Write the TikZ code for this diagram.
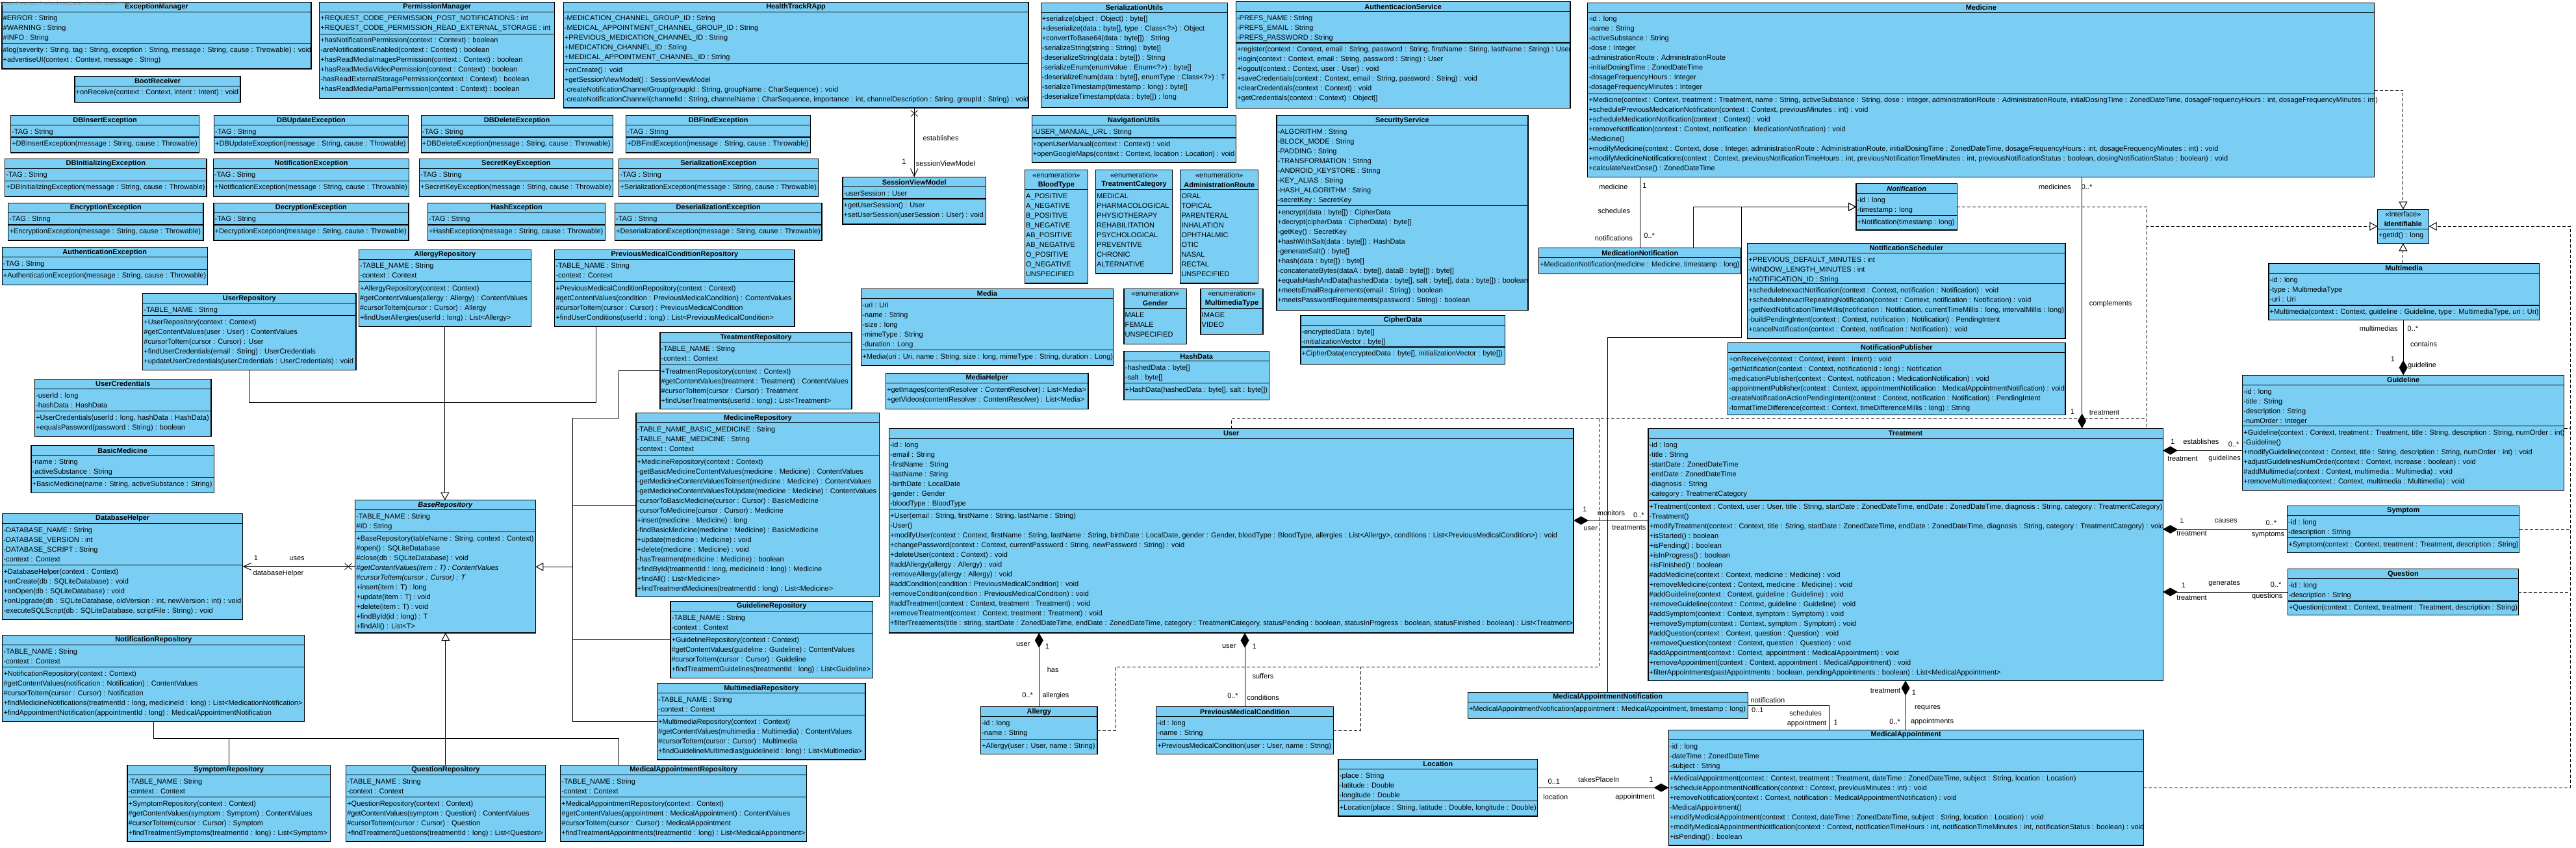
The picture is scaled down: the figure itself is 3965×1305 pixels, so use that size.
\documentclass[tikz,border=0pt]{standalone}
\usepackage{fontspec}
\setmainfont{Liberation Sans}
\usetikzlibrary{arrows.meta, shapes.misc}
\definecolor{umlblue}{HTML}{7ACEF4}

\newcommand{\umlfont}{\fontsize{11}{15}\selectfont}
% class: name, left, top, right, bottom, title, y of operations line, attributes, operations
\newcommand{\umlclass}[9]{%
  \node[classbox, minimum width={#4-#2}, minimum height={#5-#3}] (#1) at (#2,#3) {};
  \node[classname] (#1-t) at ({(#2+#4)/2},#3+7.5) {#6};
  \draw[divider] (#2,#3+15) -- (#4,#3+15);
  \draw[divider] (#2,#7) -- (#4,#7);
  \node[members] (#1-a) at (#2+1.5,#3+18) {\strut#8};
  \node[members] (#1-o) at (#2+1.5,#7+3) {\strut#9};
}
% stereotyped class: name, left, top, right, bottom, stereotype, title, y of line, items
\newcommand{\umlstereo}[9]{%
  \node[classbox, minimum width={#4-#2}, minimum height={#5-#3}] (#1) at (#2,#3) {};
  \node[stereo] (#1-s) at ({(#2+#4)/2},#3+7.5) {<<#6>>};
  \node[classname] (#1-t) at ({(#2+#4)/2},#3+22.5) {#7};
  \draw[divider] (#2,#8) -- (#4,#8);
  \node[members] (#1-a) at (#2+1.5,#8+3) {\strut#9};
}
% exception class: name, left, top, right, bottom, y of line, title
\newcommand{\umlexc}[7]{%
  \umlclass{#1}{#2}{#3}{#4}{#5}{#7}{#6}{-TAG : String}{+#7(message : String, cause : Throwable)}%
}
\newcommand{\repoattrs}{-TABLE\_NAME : String\\-context : Context}

\begin{document}
\begin{tikzpicture}[
    x=1pt, y=-1pt,
    classbox/.style={draw, fill=umlblue, line width=1.2pt, inner sep=0pt, outer sep=0pt, anchor=north west},
    classname/.style={font=\umlfont\bfseries, inner sep=0pt},
    stereo/.style={font=\umlfont, inner sep=0pt},
    members/.style={font=\umlfont, align=left, inner sep=0pt, anchor=north west},
    divider/.style={line width=1.2pt},
    lbl/.style={font=\umlfont, inner sep=0pt},
    link/.style={line width=1pt},
    dashline/.style={line width=1pt, dash pattern=on 5pt off 3pt},
    gen/.style={link, -{Triangle[length=12pt,width=13pt,fill=white]}},
    real/.style={dashline, -{Triangle[length=12pt,width=13pt,fill=white]}},
    nav/.style={link, -{Straight Barb[length=12pt,width=11pt]}},
    comp/.style={link, {Diamond[length=23pt,width=13pt]}-},
    navx/.style={draw, cross out, line width=0.8pt, minimum width=10pt, minimum height=9pt, inner sep=0pt}
  ]
  \fill[white] (0,0) rectangle (3965,1305);
  \useasboundingbox (0,0) rectangle (3965,1305);

  % utilities
  \umlclass{excmgr}{3}{3.3}{479}{106}{ExceptionManager}{66.7}
    {\#ERROR : String\\\#WARNING : String\\\#INFO : String}
    {\#log(severity : String, tag : String, exception : String, message : String, cause : Throwable) : void\\+advertiseUI(context : Context, message : String)}
  \node[font=\fontsize{8}{9}\selectfont, text=black!40, inner sep=0pt, anchor=west] (vp) at (0,6.7)
    {Visual Paradigm Professional(Javier Jordán Luque(Universidad de Málaga))};
  \umlclass{bootrcv}{115}{117.3}{370}{157.3}{BootReceiver}{132.3}{}
    {+onReceive(context : Context, intent : Intent) : void}
  \umlclass{permmgr}{491.7}{3.3}{853.8}{151.7}{PermissionManager}{52.3}
    {+REQUEST\_CODE\_PERMISSION\_POST\_NOTIFICATIONS : int\\+REQUEST\_CODE\_PERMISSION\_READ\_EXTERNAL\_STORAGE : int}
    {+hasNotificationPermission(context : Context) : boolean\\-areNotificationsEnabled(context : Context) : boolean\\+hasReadMediaImagesPermission(context : Context) : boolean\\+hasReadMediaVideoPermission(context : Context) : boolean\\-hasReadExternalStoragePermission(context : Context) : boolean\\+hasReadMediaPartialPermission(context : Context) : boolean}
  \umlclass{app}{867.2}{3.3}{1583}{166}{HealthTrackRApp}{97.7}
    {-MEDICATION\_CHANNEL\_GROUP\_ID : String\\-MEDICAL\_APPOINTMENT\_CHANNEL\_GROUP\_ID : String\\+PREVIOUS\_MEDICATION\_CHANNEL\_ID : String\\+MEDICATION\_CHANNEL\_ID : String\\+MEDICAL\_APPOINTMENT\_CHANNEL\_ID : String}
    {+onCreate() : void\\+getSessionViewModel() : SessionViewModel\\-createNotificationChannelGroup(groupId : String, groupName : CharSequence) : void\\-createNotificationChannel(channelId : String, channelName : CharSequence, importance : int, channelDescription : String, groupId : String) : void}
  \umlclass{serutils}{1602.2}{4.3}{1889.6}{165.3}{SerializationUtils}{19.3}{}
    {+serialize(object : Object) : byte[]\\+deserialize(data : byte[], type : Class<?>) : Object\\+convertToBase64(data : byte[]) : String\\-serializeString(string : String) : byte[]\\-deserializeString(data : byte[]) : String\\-serializeEnum(enumValue : Enum<?>) : byte[]\\-deserializeEnum(data : byte[], enumType : Class<?>) : T\\-serializeTimestamp(timestamp : long) : byte[]\\-deserializeTimestamp(data : byte[]) : long}
  \umlclass{authsvc}{1902.3}{2.7}{2417}{166.7}{AuthenticacionService}{66}
    {-PREFS\_NAME : String\\-PREFS\_EMAIL : String\\-PREFS\_PASSWORD : String}
    {+register(context : Context, email : String, password : String, firstName : String, lastName : String) : User\\+login(context : Context, email : String, password : String) : User\\+logout(context : Context, user : User) : void\\+saveCredentials(context : Context, email : String, password : String) : void\\+clearCredentials(context : Context) : void\\+getCredentials(context : Context) : Object[]}
  \umlclass{svm}{1297}{272.7}{1517.3}{345}{SessionViewModel}{306}
    {-userSession : User}
    {+getUserSession() : User\\+setUserSession(userSession : User) : void}
  \umlclass{navutils}{1588.2}{177.7}{1902.3}{250}{NavigationUtils}{212}
    {-USER\_MANUAL\_URL : String}
    {+openUserManual(context : Context) : void\\+openGoogleMaps(context : Context, location : Location) : void}
  \umlclass{secsvc}{1964.9}{177.7}{2351.9}{477.3}{SecurityService}{316.7}
    {-ALGORITHM : String\\-BLOCK\_MODE : String\\-PADDING : String\\-TRANSFORMATION : String\\-ANDROID\_KEYSTORE : String\\-KEY\_ALIAS : String\\-HASH\_ALGORITHM : String\\-secretKey : SecretKey}
    {+encrypt(data : byte[]) : CipherData\\+decrypt(cipherData : CipherData) : byte[]\\-getKey() : SecretKey\\+hashWithSalt(data : byte[]) : HashData\\-generateSalt() : byte[]\\+hash(data : byte[]) : byte[]\\-concatenateBytes(dataA : byte[], dataB : byte[]) : byte[]\\+equalsHashAndData(hashedData : byte[], salt : byte[], data : byte[]) : boolean\\+meetsEmailRequirements(email : String) : boolean\\+meetsPasswordRequirements(password : String) : boolean}
  \umlclass{cipher}{2001.9}{485.3}{2316.7}{560.3}{CipherData}{534}
    {-encryptedData : byte[]\\-initializationVector : byte[]}
    {+CipherData(encryptedData : byte[], initializationVector : byte[])}
  \umlclass{hashdata}{1729.9}{540.7}{1953.4}{615.3}{HashData}{589.3}
    {-hashedData : byte[]\\-salt : byte[]}
    {+HashData(hashedData : byte[], salt : byte[])}
  \umlclass{media}{1325.7}{444.3}{1713.3}{562.3}{Media}{538.3}
    {-uri : Uri\\-name : String\\-size : long\\-mimeType : String\\-duration : Long}
    {+Media(uri : Uri, name : String, size : long, mimeType : String, duration : Long)}
  \umlclass{mediahelper}{1363.4}{574.3}{1675}{629.3}{MediaHelper}{589.3}{}
    {+getImages(contentResolver : ContentResolver) : List<Media>\\+getVideos(contentResolver : ContentResolver) : List<Media>}

  % enumerations
  \umlstereo{bloodtype}{1577.3}{261.7}{1674.4}{436}{enumeration}{BloodType}{291.7}
    {A\_POSITIVE\\A\_NEGATIVE\\B\_POSITIVE\\B\_NEGATIVE\\AB\_POSITIVE\\AB\_NEGATIVE\\O\_POSITIVE\\O\_NEGATIVE\\UNSPECIFIED}
  \umlstereo{treatcat}{1686.5}{261.7}{1804.6}{421}{enumeration}{TreatmentCategory}{291.7}
    {MEDICAL\\PHARMACOLOGICAL\\PHYSIOTHERAPY\\REHABILITATION\\PSYCHOLOGICAL\\PREVENTIVE\\CHRONIC\\ALTERNATIVE}
  \umlstereo{adminroute}{1816.8}{261.7}{1936.8}{436}{enumeration}{AdministrationRoute}{291.7}
    {ORAL\\TOPICAL\\PARENTERAL\\INHALATION\\OPHTHALMIC\\OTIC\\NASAL\\RECTAL\\UNSPECIFIED}
  \umlstereo{gender}{1729.9}{444.3}{1826.4}{529.3}{enumeration}{Gender}{474.7}
    {MALE\\FEMALE\\UNSPECIFIED}
  \umlstereo{mmtype}{1848}{444.3}{1943.9}{514.3}{enumeration}{MultimediaType}{474.7}
    {IMAGE\\VIDEO}
  \umlstereo{identifiable}{3659.3}{322.3}{3738.5}{374.3}{Interface}{Identifiable}{352.3}
    {+getId() : long}

  % exceptions
  \umlexc{dbinsert}{16.6}{177.7}{306.5}{235}{211}{DBInsertException}
  \umlexc{dbupdate}{329.5}{177.7}{628.4}{235}{211}{DBUpdateException}
  \umlexc{dbdelete}{648.2}{177.7}{943.2}{235}{211}{DBDeleteException}
  \umlexc{dbfind}{963.6}{177.7}{1247.8}{235}{211}{DBFindException}
  \umlexc{dbinit}{7.7}{244.3}{318}{302.3}{278.3}{DBInitializingException}
  \umlexc{notifexc}{328.2}{244.3}{629.7}{302.3}{278.3}{NotificationException}
  \umlexc{secretexc}{645.6}{244.3}{943.2}{302.3}{278.3}{SecretKeyException}
  \umlexc{serexc}{952.8}{244.3}{1259.3}{302.3}{278.3}{SerializationException}
  \umlexc{encexc}{12.8}{312.3}{312.9}{370}{346}{EncryptionException}
  \umlexc{decexc}{328.9}{312.3}{629}{370}{346}{DecryptionException}
  \umlexc{hashexc}{658.4}{312.3}{931.7}{370}{346}{HashException}
  \umlexc{deserexc}{946.4}{312.3}{1265}{370}{346}{DeserializationException}
  \umlexc{authexc}{3.2}{380.7}{319.3}{438.3}{414.3}{AuthenticationException}

  % repositories
  \umlclass{allergyrepo}{552.4}{384.3}{817.4}{502.3}{AllergyRepository}{433.3}{\repoattrs}
    {+AllergyRepository(context : Context)\\\#getContentValues(allergy : Allergy) : ContentValues\\\#cursorToItem(cursor : Cursor) : Allergy\\+findUserAllergies(userId : long) : List<Allergy>}
  \umlclass{prevrepo}{853.8}{384.3}{1222.9}{502.3}{PreviousMedicalConditionRepository}{433.3}{\repoattrs}
    {+PreviousMedicalConditionRepository(context : Context)\\\#getContentValues(condition : PreviousMedicalCondition) : ContentValues\\\#cursorToItem(cursor : Cursor) : PreviousMedicalCondition\\+findUserConditions(userId : long) : List<PreviousMedicalCondition>}
  \umlclass{userrepo}{219.7}{451.7}{547.9}{569.3}{UserRepository}{485.3}{-TABLE\_NAME : String}
    {+UserRepository(context : Context)\\\#getContentValues(user : User) : ContentValues\\\#cursorToItem(cursor : Cursor) : User\\+findUserCredentials(email : String) : UserCredentials\\+updateUserCredentials(userCredentials : UserCredentials) : void}
  \umlclass{usercred}{53.6}{583.3}{325}{671.3}{UserCredentials}{632.7}
    {-userId : long\\-hashData : HashData}
    {+UserCredentials(userId : long, hashData : HashData)\\+equalsPassword(password : String) : boolean}
  \umlclass{basicmed}{47.9}{685.7}{329.5}{758.3}{BasicMedicine}{734.3}
    {-name : String\\-activeSubstance : String}
    {+BasicMedicine(name : String, activeSubstance : String)}
  \umlclass{dbhelper}{3.8}{790.3}{373.6}{953.3}{DatabaseHelper}{869.3}
    {-DATABASE\_NAME : String\\-DATABASE\_VERSION : int\\-DATABASE\_SCRIPT : String\\-context : Context}
    {+DatabaseHelper(context : Context)\\+onCreate(db : SQLiteDatabase) : void\\+onOpen(db : SQLiteDatabase) : void\\+onUpgrade(db : SQLiteDatabase, oldVersion : int, newVersion : int) : void\\-executeSQLScript(db : SQLiteDatabase, scriptFile : String) : void}
  \umlclass{base}{546.7}{769.7}{824.4}{974}{\textit{BaseRepository}}{818.3}
    {-TABLE\_NAME : String\\\#ID : String}
    {+BaseRepository(tableName : String, context : Context)\\\#open() : SQLiteDatabase\\\#close(db : SQLiteDatabase) : void\\\textit{\#getContentValues(item : T) : ContentValues}\\\textit{\#cursorToItem(cursor : Cursor) : T}\\+insert(item : T) : long\\+update(item : T) : void\\+delete(item : T) : void\\+findById(id : long) : T\\+findAll() : List<T>}
  \umlclass{notifrepo}{3.8}{977.3}{468.7}{1110.7}{NotificationRepository}{1026.7}{\repoattrs}
    {+NotificationRepository(context : Context)\\\#getContentValues(notification : Notification) : ContentValues\\\#cursorToItem(cursor : Cursor) : Notification\\+findMedicineNotifications(treatmentId : long, medicineId : long) : List<MedicationNotification>\\+findAppointmentNotification(appointmentId : long) : MedicalAppointmentNotification}
  \umlclass{symprepo}{196}{1177.3}{508.3}{1295}{SymptomRepository}{1226.3}{\repoattrs}
    {+SymptomRepository(context : Context)\\\#getContentValues(symptom : Symptom) : ContentValues\\\#cursorToItem(cursor : Cursor) : Symptom\\+findTreatmentSymptoms(treatmentId : long) : List<Symptom>}
  \umlclass{questrepo}{532.6}{1177.3}{839.1}{1295}{QuestionRepository}{1226.3}{\repoattrs}
    {+QuestionRepository(context : Context)\\\#getContentValues(symptom : Question) : ContentValues\\\#cursorToItem(cursor : Cursor) : Question\\+findTreatmentQuestions(treatmentId : long) : List<Question>}
  \umlclass{marepo}{862.7}{1177.3}{1241.4}{1295}{MedicalAppointmentRepository}{1226.3}{\repoattrs}
    {+MedicalAppointmentRepository(context : Context)\\\#getContentValues(appointment : MedicalAppointment) : ContentValues\\\#cursorToItem(cursor : Cursor) : MedicalAppointment\\+findTreatmentAppointments(treatmentId : long) : List<MedicalAppointment>}
  \umlclass{treatrepo}{1016}{511.7}{1311}{629.3}{TreatmentRepository}{561.7}{\repoattrs}
    {+TreatmentRepository(context : Context)\\\#getContentValues(treatment : Treatment) : ContentValues\\\#cursorToItem(cursor : Cursor) : Treatment\\+findUserTreatments(userId : long) : List<Treatment>}
  \umlclass{medrepo}{979}{635.7}{1353.8}{918.3}{MedicineRepository}{700.7}
    {-TABLE\_NAME\_BASIC\_MEDICINE : String\\-TABLE\_NAME\_MEDICINE : String\\-context : Context}
    {+MedicineRepository(context : Context)\\-getBasicMedicineContentValues(medicine : Medicine) : ContentValues\\-getMedicineContentValuesToInsert(medicine : Medicine) : ContentValues\\-getMedicineContentValuesToUpdate(medicine : Medicine) : ContentValues\\-cursorToBasicMedicine(cursor : Cursor) : BasicMedicine\\-cursorToMedicine(cursor : Cursor) : Medicine\\+insert(medicine : Medicine) : long\\-findBasicMedicine(medicine : Medicine) : BasicMedicine\\+update(medicine : Medicine) : void\\+delete(medicine : Medicine) : void\\-hasTreatment(medicine : Medicine) : boolean\\+findById(treatmentId : long, medicineId : long) : Medicine\\+findAll() : List<Medicine>\\+findTreatmentMedicines(treatmentId : long) : List<Medicine>}
  \umlclass{guiderepo}{1031.9}{925.3}{1343.6}{1043.3}{GuidelineRepository}{974.3}{\repoattrs}
    {+GuidelineRepository(context : Context)\\\#getContentValues(guideline : Guideline) : ContentValues\\\#cursorToItem(cursor : Cursor) : Guideline\\+findTreatmentGuidelines(treatmentId : long) : List<Guideline>}
  \umlclass{mmrepo}{1011.5}{1051.7}{1332}{1169}{MultimediaRepository}{1100.7}{\repoattrs}
    {+MultimediaRepository(context : Context)\\\#getContentValues(multimedia : Multimedia) : ContentValues\\\#cursorToItem(cursor : Cursor) : Multimedia\\+findGuidelineMultimedias(guidelineId : long) : List<Multimedia>}

  % domain
  \umlclass{medicine}{2443.8}{4.3}{3654.8}{272.3}{Medicine}{144.3}
    {-id : long\\-name : String\\-activeSubstance : String\\-dose : Integer\\-administrationRoute : AdministrationRoute\\-initialDosingTime : ZonedDateTime\\-dosageFrequencyHours : Integer\\-dosageFrequencyMinutes : Integer}
    {+Medicine(context : Context, treatment : Treatment, name : String, activeSubstance : String, dose : Integer, administrationRoute : AdministrationRoute, intialDosingTime : ZonedDateTime, dosageFrequencyHours : int, dosageFrequencyMinutes : int)\\+schedulePreviousMedicationNotification(context : Context, previousMinutes : int) : void\\+scheduleMedicationNotification(context : Context) : void\\+removeNotification(context : Context, notification : MedicationNotification) : void\\-Medicine()\\+modifyMedicine(context : Context, dose : Integer, administrationRoute : AdministrationRoute, initialDosingTime : ZonedDateTime, dosageFrequencyHours : int, dosageFrequencyMinutes : int) : void\\+modifyMedicineNotifications(context : Context, previousNotificationTimeHours : int, previousNotificationTimeMinutes : int, previousNotificationStatus : boolean, dosingNotificationStatus : boolean) : void\\+calculateNextDose() : ZonedDateTime}
  \umlclass{notification}{2857}{282.7}{3012.4}{354}{\textit{Notification}}{331.7}
    {-id : long\\-timestamp : long}
    {+Notification(timestamp : long)}
  \umlclass{mednotif}{2368.5}{381.7}{2680}{421.3}{MedicationNotification}{396.7}{}
    {+MedicationNotification(medicine : Medicine, timestamp : long)}
  \umlclass{notifsched}{2689.7}{374.3}{3179}{521}{NotificationScheduler}{436.7}
    {+PREVIOUS\_DEFAULT\_MINUTES : int\\-WINDOW\_LENGTH\_MINUTES : int\\+NOTIFICATION\_ID : String}
    {+scheduleInexactNotification(context : Context, notification : Notification) : void\\+scheduleInexactRepeatingNotification(context : Context, notification : Notification) : void\\-getNextNotificationTimeMillis(notification : Notification, currentTimeMillis : long, intervalMillis : long)\\-buildPendingIntent(context : Context, notification : Notification) : PendingIntent\\+cancelNotification(context : Context, notification : Notification) : void}
  \umlclass{notifpub}{2659.7}{527.3}{3179}{638.3}{NotificationPublisher}{542.3}{}
    {+onReceive(context : Context, intent : Intent) : void\\-getNotification(context : Context, notificationId : long) : Notification\\-medicationPublisher(context : Context, notification : MedicationNotification) : void\\-appointmentPublisher(context : Context, appointmentNotification : MedicalAppointmentNotification) : void\\-createNotificationActionPendingIntent(context : Context, notification : Notification) : PendingIntent\\-formatTimeDifference(context : Context, timeDifferenceMillis : long) : String}
  \umlclass{multimedia}{3491.9}{405.3}{3908.3}{492.3}{Multimedia}{470}
    {-id : long\\-type : MultimediaType\\-uri : Uri}
    {+Multimedia(context : Context, guideline : Guideline, type : MultimediaType, uri : Uri)}
  \umlclass{guideline}{3451.7}{577.3}{3946.6}{754.3}{Guideline}{655.7}
    {-id : long\\-title : String\\-description : String\\-numOrder : Integer}
    {+Guideline(context : Context, treatment : Treatment, title : String, description : String, numOrder : int)\\-Guideline()\\+modifyGuideline(context : Context, title : String, description : String, numOrder : int) : void\\+adjustGuidelinesNumOrder(context : Context, increase : boolean) : void\\\#addMultimedia(context : Context, multimedia : Multimedia) : void\\+removeMultimedia(context : Context, multimedia : Multimedia) : void}
  \umlclass{symptom}{3520.7}{778.7}{3877.7}{850.3}{Symptom}{827.7}
    {-id : long\\-description : String}
    {+Symptom(context : Context, treatment : Treatment, description : String)}
  \umlclass{question}{3521.3}{875.7}{3876.4}{946.3}{Question}{925}
    {-id : long\\-description : String}
    {+Question(context : Context, treatment : Treatment, description : String)}
  \umlclass{user}{1368.5}{659.7}{2422}{974}{User}{783.3}
    {-id : long\\-email : String\\-firstName : String\\-lastName : String\\-birthDate : LocalDate\\-gender : Gender\\-bloodType : BloodType}
    {+User(email : String, firstName : String, lastName : String)\\-User()\\+modifyUser(context : Context, firstName : String, lastName : String, birthDate : LocalDate, gender : Gender, bloodType : BloodType, allergies : List<Allergy>, conditions : List<PreviousMedicalCondition>) : void\\+changePassword(context : Context, currentPassword : String, newPassword : String) : void\\+deleteUser(context : Context) : void\\\#addAllergy(allergy : Allergy) : void\\-removeAllergy(allergy : Allergy) : void\\\#addCondition(condition : PreviousMedicalCondition) : void\\-removeCondition(condition : PreviousMedicalCondition) : void\\\#addTreatment(context : Context, treatment : Treatment) : void\\+removeTreatment(context : Context, treatment : Treatment) : void\\+filterTreatments(title : string, startDate : ZonedDateTime, endDate : ZonedDateTime, category : TreatmentCategory, statusPending : boolean, statusInProgress : boolean, statusFinished : boolean) : List<Treatment>}
  \umlclass{treatment}{2537}{659.3}{3329.1}{1047.3}{Treatment}{770}
    {-id : long\\-title : String\\-startDate : ZonedDateTime\\-endDate : ZonedDateTime\\-diagnosis : String\\-category : TreatmentCategory}
    {+Treatment(context : Context, user : User, title : String, startDate : ZonedDateTime, endDate : ZonedDateTime, diagnosis : String, category : TreatmentCategory)\\-Treatment()\\+modifyTreatment(context : Context, title : String, startDate : ZonedDateTime, endDate : ZonedDateTime, diagnosis : String, category : TreatmentCategory) : void\\+isStarted() : boolean\\+isPending() : boolean\\+isInProgress() : boolean\\+isFinished() : boolean\\\#addMedicine(context : Context, medicine : Medicine) : void\\+removeMedicine(context : Context, medicine : Medicine) : void\\\#addGuideline(context : Context, guideline : Guideline) : void\\+removeGuideline(context : Context, guideline : Guideline) : void\\\#addSymptom(context : Context, symptom : Symptom) : void\\+removeSymptom(context : Context, symptom : Symptom) : void\\\#addQuestion(context : Context, question : Question) : void\\+removeQuestion(context : Context, question : Question) : void\\\#addAppointment(context : Context, appointment : MedicalAppointment) : void\\+removeAppointment(context : Context, appointment : MedicalAppointment) : void\\+filterAppointments(pastAppointments : boolean, pendingAppointments : boolean) : List<MedicalAppointment>}
  \umlclass{allergy}{1509.6}{1087.7}{1689}{1160.3}{Allergy}{1137.3}
    {-id : long\\-name : String}
    {+Allergy(user : User, name : String)}
  \umlclass{pmc}{1779.7}{1087.7}{2052.4}{1160.3}{PreviousMedicalCondition}{1137.3}
    {-id : long\\-name : String}
    {+PreviousMedicalCondition(user : User, name : String)}
  \umlclass{man}{2259.3}{1065.3}{2690.3}{1105.3}{MedicalAppointmentNotification}{1080.3}{}
    {+MedicalAppointmentNotification(appointment : MedicalAppointment, timestamp : long)}
  \umlclass{ma}{2568.4}{1123.3}{3299.1}{1301}{MedicalAppointment}{1187.3}
    {-id : long\\-dateTime : ZonedDateTime\\-subject : String}
    {+MedicalAppointment(context : Context, treatment : Treatment, dateTime : ZonedDateTime, subject : String, location : Location)\\+scheduleAppointmentNotification(context : Context, previousMinutes : int) : void\\+removeNotification(context : Context, notification : MedicalAppointmentNotification) : void\\-MedicalAppointment()\\+modifyMedicalAppointment(context : Context, dateTime : ZonedDateTime, subject : String, location : Location) : void\\+modifyMedicalAppointmentNotification(context : Context, notificationTimeHours : int, notificationTimeMinutes : int, notificationStatus : boolean) : void\\+isPending() : boolean}
  \umlclass{location}{2060}{1168.3}{2366.6}{1256}{Location}{1232.3}
    {-place : String\\-latitude : Double\\-longitude : Double}
    {+Location(place : String, latitude : Double, longitude : Double)}

  % generalizations into BaseRepository
  \draw[gen] (allergyrepo.south) -- (allergyrepo.south |- base.north);
  \draw[link] (userrepo.south) |- (917.7,619.3) -- (prevrepo.south -| 917.7,0);
  \draw[gen] (treatrepo.west) -| (952.8,643.3) -| (881.3,872.3) -- (base.east |- 0,872.3);
  \draw[link] (medrepo.west) -- (medrepo.west -| 881.3,0);
  \draw[link] (guiderepo.west) -| (881.3,872.3);
  \draw[link] (mmrepo.west) -| (881.3,872.3);
  \draw[gen] (questrepo.north) -- (questrepo.north |- base.south);
  \draw[link] (notifrepo.south) |- (952.8,1136) -- (marepo.north -| 952.8,0);
  \draw[link] (symprepo.north) -- (symprepo.north |- 0,1136);

  % navigable associations
  \draw[nav] (base.west |- dbhelper.east) -- (dbhelper.east);
  \node[navx] (xdb) at (536,871.8) {};
  \draw[nav] (svm.north |- app.south) -- (svm.north);
  \node[navx] (xapp) at (1407.2,174.5) {};

  % compositions
  \draw[comp] (user.east |- 0,801) -- (treatment.west |- 0,801);
  \draw[comp] (allergy.north |- user.south) -- (allergy.north);
  \draw[comp] (pmc.north |- user.south) -- (pmc.north);
  \draw[comp] (treatment.north -| 3204.6,0) -- (medicine.south -| 3204.6,0);
  \draw[comp] (treatment.east |- 0,693.3) -- (guideline.west |- 0,693.3);
  \draw[comp] (treatment.east |- symptom.west) -- (symptom.west);
  \draw[comp] (treatment.east |- question.west) -- (question.west);
  \draw[comp] (treatment.south) -- (treatment.south |- ma.north);
  \draw[comp] (ma.west |- location.east) -- (location.east);
  \draw[comp] (guideline.north) -- (guideline.north |- multimedia.south);

  % plain associations
  \draw[link] (mednotif.north |- medicine.south) -- (mednotif.north);
  \draw[link] (man.east) -| (ma.north -| 2815.5,0);

  % notifications
  \draw[gen] (mednotif.north -| 2606.7,0) |- (notification.west);
  \draw[gen] (man.north) |- (2680.7,519.3) |- (notification.west);

  % realizations of Identifiable
  \draw[real] (medicine.east |- 0,139.3) -| (identifiable.north);
  \draw[real] (notification.east) -| (3304.8,348.3) -- (identifiable.west);
  \draw[dashline] (3304.8,348.3) -- (treatment.north -| 3304.8,0);
  \draw[dashline] (user.north) |- (3304.8,644.3);
  \draw[dashline] (allergy.east) -| (1717.1,1026) -| (2462.3,644.3);
  \draw[dashline] (pmc.east) -| (2094.5,1026);
  \draw[real] (ma.east) -| (3956.2,348.3) -- (identifiable.east);
  \draw[dashline] (guideline.east |- 0,659.3) -- (3956.2,659.3);
  \draw[dashline] (symptom.east) -- (symptom.east -| 3956.2,0);
  \draw[dashline] (question.east) -- (question.east -| 3956.2,0);
  \draw[real] (identifiable.south |- multimedia.north) -- (identifiable.south);

  % role names and multiplicities
  \node[lbl] (l-svm1) at (1448,212.3) {establishes};
  \node[lbl] (l-svm2) at (1391.5,248.3) {1};
  \node[lbl] (l-svm3) at (1455.4,251.7) {sessionViewModel};
  \node[lbl] (l-db1) at (394,858.3) {1};
  \node[lbl] (l-db2) at (457,860) {uses};
  \node[lbl] (l-db3) at (428.5,882.3) {databaseHelper};
  \node[lbl] (l-mn1) at (2483.4,287.3) {medicine};
  \node[lbl] (l-mn2) at (2531.3,286) {1};
  \node[lbl] (l-mn3) at (2484.4,324.3) {schedules};
  \node[lbl] (l-mn4) at (2483.8,366.7) {notifications};
  \node[lbl] (l-mn5) at (2538.7,362.3) {0..*};
  \node[lbl] (l-tm1) at (3162.8,287.3) {medicines};
  \node[lbl] (l-tm2) at (3212,287.3) {0..*};
  \node[lbl] (l-tm3) at (3248.6,467.7) {complements};
  \node[lbl] (l-tm4) at (3190,634) {1};
  \node[lbl] (l-tm5) at (3239,635.3) {treatment};
  \node[lbl] (l-ut1) at (2439.4,784) {1};
  \node[lbl] (l-ut2) at (2480,789.7) {monitors};
  \node[lbl] (l-ut3) at (2522.4,792.3) {0..*};
  \node[lbl] (l-ut4) at (2448.3,813.3) {user};
  \node[lbl] (l-ut5) at (2507.4,811.7) {treatments};
  \node[lbl] (l-ua1) at (1574.7,991.7) {user};
  \node[lbl] (l-ua2) at (1611.8,995) {1};
  \node[lbl] (l-ua3) at (1620.7,1030.3) {has};
  \node[lbl] (l-ua4) at (1581.7,1069.3) {0..*};
  \node[lbl] (l-ua5) at (1625,1070.7) {allergies};
  \node[lbl] (l-uc1) at (1891.8,994.3) {user};
  \node[lbl] (l-uc2) at (1931,994.3) {1};
  \node[lbl] (l-uc3) at (1944,1040.3) {suffers};
  \node[lbl] (l-uc4) at (1897.5,1070.7) {0..*};
  \node[lbl] (l-uc5) at (1944,1073.7) {conditions};
  \node[lbl] (l-an1) at (2721,1077.3) {notification};
  \node[lbl] (l-an2) at (2705.3,1092.7) {0..1};
  \node[lbl] (l-an3) at (2779,1097.3) {schedules};
  \node[lbl] (l-an4) at (2781,1113.3) {appointment};
  \node[lbl] (l-an5) at (2825.7,1111.7) {1};
  \node[lbl] (l-ta1) at (2902,1063.3) {treatment};
  \node[lbl] (l-ta2) at (2945.8,1066) {1};
  \node[lbl] (l-ta3) at (2967,1088.7) {requires};
  \node[lbl] (l-ta4) at (2916.7,1110.7) {0..*};
  \node[lbl] (l-ta5) at (2974,1110.7) {appointments};
  \node[lbl] (l-lo1) at (2391.7,1202.7) {0..1};
  \node[lbl] (l-lo2) at (2460.7,1199.3) {takesPlaceIn};
  \node[lbl] (l-lo3) at (2541.5,1199.3) {1};
  \node[lbl] (l-lo4) at (2394.3,1226.7) {location};
  \node[lbl] (l-lo5) at (2516.6,1226.7) {appointment};
  \node[lbl] (l-tg1) at (3344.4,680) {1};
  \node[lbl] (l-tg2) at (3387.9,680) {establishes};
  \node[lbl] (l-tg3) at (3438,684) {0..*};
  \node[lbl] (l-tg4) at (3359.5,706) {treatment};
  \node[lbl] (l-tg5) at (3424,706) {guidelines};
  \node[lbl] (l-ts1) at (3358.5,801.7) {1};
  \node[lbl] (l-ts2) at (3426.2,801.7) {causes};
  \node[lbl] (l-ts3) at (3495.8,805) {0..*};
  \node[lbl] (l-ts4) at (3373.5,820.7) {treatment};
  \node[lbl] (l-ts5) at (3491,823.3) {symptoms};
  \node[lbl] (l-tq1) at (3361,900.7) {1};
  \node[lbl] (l-tq2) at (3423.7,897.7) {generates};
  \node[lbl] (l-tq3) at (3503,900) {0..*};
  \node[lbl] (l-tq4) at (3373.5,920) {treatment};
  \node[lbl] (l-tq5) at (3489.7,917.3) {questions};
  \node[lbl] (l-gm1) at (3661.2,506) {multimedias};
  \node[lbl] (l-gm2) at (3713.9,506) {0..*};
  \node[lbl] (l-gm3) at (3730.5,529.3) {contains};
  \node[lbl] (l-gm4) at (3682.9,552.7) {1};
  \node[lbl] (l-gm5) at (3728,562.7) {guideline};
\end{tikzpicture}
\end{document}
